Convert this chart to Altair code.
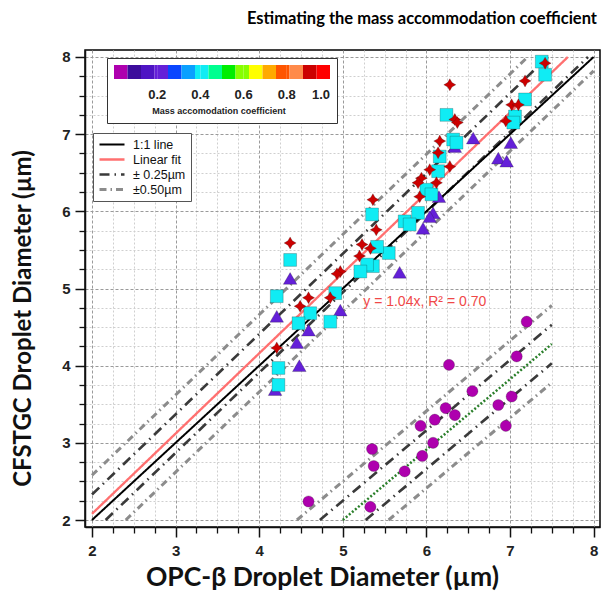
import altair as alt
import pandas as pd

# ---------------- data ----------------
star_x = [7.42, 7.18, 6.28, 7.02, 7.10, 6.34, 6.37, 6.95, 6.16, 6.14, 6.28, 6.04, 5.94, 6.12,
          5.90, 5.92, 5.36, 5.40, 5.23, 5.33, 5.20, 4.97, 4.93, 4.37, 4.59, 4.49, 4.85, 4.21]
star_y = [7.92, 7.69, 7.64, 7.38, 7.38, 7.19, 7.15, 7.17, 6.91, 6.76, 6.58, 6.54, 6.43, 6.37,
          6.37, 6.19, 6.15, 5.76, 5.57, 5.52, 5.42, 5.22, 5.19, 5.59, 4.88, 4.77, 4.88, 4.23]

square_x = [7.38, 7.42, 7.18, 7.06, 7.04, 6.24, 6.32, 6.36, 6.16, 6.14, 6.00, 6.06, 5.90, 5.74,
            5.80, 5.35, 5.55, 5.41, 5.36, 5.29, 5.21, 4.37, 4.21, 4.91, 4.61, 4.47, 4.85, 4.23, 4.23]
square_y = [7.94, 7.77, 7.45, 7.23, 7.15, 7.25, 6.93, 6.89, 6.71, 6.52, 6.28, 6.22, 5.98, 5.87,
            5.83, 5.96, 5.46, 5.54, 5.29, 5.31, 5.22, 5.37, 4.90, 4.94, 4.68, 4.55, 4.57, 3.97, 3.75]

tri_x = [6.56, 7.01, 6.86, 6.96, 6.34, 6.15, 6.08, 6.04, 5.96, 5.68, 4.37, 4.21, 4.97, 4.59,
         4.45, 4.48, 4.19]
tri_y = [6.95, 6.89, 6.69, 6.65, 6.84, 6.19, 5.98, 5.93, 5.78, 5.21, 5.13, 4.64, 4.72, 4.46,
         4.30, 4.00, 3.69]

circ_x = [7.20, 6.27, 7.08, 6.55, 7.02, 6.86, 6.95, 6.23, 6.34, 6.10, 5.93, 6.08, 5.95, 5.74,
          5.35, 5.37, 5.33, 4.59]
circ_y = [4.57, 4.01, 4.12, 3.67, 3.60, 3.49, 3.22, 3.45, 3.36, 3.30, 3.22, 3.00, 2.83, 2.63,
          2.92, 2.70, 2.17, 2.24]

# marker groups (draw order), their mass accommodation coefficient, shape and size
group_names = ["triangle", "square", "star", "circle"]
group_coef = [0.22, 0.40, 0.90, 0.03]
STAR = "M0,-1L0.36,-0.36L1,0L0.36,0.36L0,1L-0.36,0.36L-1,0L-0.36,-0.36Z"
group_shapes = ["triangle-up", "square", STAR, "circle"]
group_sizes = [185, 125, 360, 235]

# colour bar (16 discrete steps between 0 and 1)
colorbar_colors = ["#AE00AE", "#3C0C9C", "#4E14C4", "#6420D8", "#0A46FF", "#0AA0FF",
                   "#10ECF4", "#00FF90", "#00EE00", "#88FF00", "#FFFF00", "#FFAA00",
                   "#FF5500", "#FF8A4A", "#CC0000", "#FF0000"]
colorbar_labels = [0.2, 0.4, 0.6, 0.8, 1.0]

# fitted lines
fit_slope = 1.04
band_offsets = [0.25, 0.50]
grp2_slope = 0.912
grp2_intercept = -2.56
grp2_xmax = 7.5

line_names = ["1:1 line", "Linear fit", "± 0.25µm", "±0.50µm"]
line_colors = ["#000000", "#FF7070", "#3a3a3a", "#8c8c8c"]
line_dashes = [[1, 0], [1, 0], [10, 5, 1.5, 5], [7, 4, 1.5, 4]]
line_widths = [2, 3, 1.6, 1.2]

annot_x = [5.98]
annot_y = [4.82]
annot_text = ["y = 1.04x, R² = 0.70"]

title_text = "Estimating the mass accommodation coefficient"
x_title = "OPC-β Droplet Diameter (µm)"
y_title = "CFSTGC Droplet Diameter (µm)"

major_ticks = [2, 3, 4, 5, 6, 7, 8]
minor_ticks = [2 + 0.25 * i for i in range(25) if i % 4 != 0]

# ---------------- tables ----------------
pts = []
for g, xs, ys in [("triangle", tri_x, tri_y), ("square", square_x, square_y),
                  ("star", star_x, star_y), ("circle", circ_x, circ_y)]:
    c = group_coef[group_names.index(g)]
    for xv, yv in zip(xs, ys):
        pts.append({"x": xv, "y": yv, "g": g, "coef": c})
pts_df = pd.DataFrame(pts)


def seg(m, b, xmax=8.0, lo=2.0, hi=8.0):
    x0 = max(lo, (lo - b) / m)
    x1 = min(xmax, (hi - b) / m)
    return [(x0, m * x0 + b), (x1, m * x1 + b)]


rows = []
def add(lid, series, m, b, xmax=8.0):
    for xv, yv in seg(m, b, xmax):
        rows.append({"x": xv, "y": yv, "lid": lid, "series": series})

for off, name in zip(band_offsets, [line_names[2], line_names[3]]):
    add(f"a+{off}", name, fit_slope, off)
    add(f"a-{off}", name, fit_slope, -off)
    add(f"b+{off}", name, grp2_slope, grp2_intercept + off, grp2_xmax)
    add(f"b-{off}", name, grp2_slope, grp2_intercept - off, grp2_xmax)
add("fit", line_names[1], fit_slope, 0.0)
add("one", line_names[0], 1.0, 0.0)
lines_df = pd.DataFrame(rows)

green_df = pd.DataFrame([{"x": xv, "y": yv} for xv, yv in seg(grp2_slope, grp2_intercept, grp2_xmax)])
annot_df = pd.DataFrame({"x": annot_x, "y": annot_y, "t": annot_text})

# ---------------- scales / axes ----------------
xscale = alt.Scale(domain=[2 - 7 / 83.6, 2 + 508 / 83.6], nice=False, zero=False)
yscale = alt.Scale(domain=[2 - 7 / 77.17, 8 + 7 / 77.17], nice=False, zero=False)

major_common = dict(
    values=major_ticks, format="d",
    labelOverlap=False, labelFlush=False,
    labelFont="Liberation Sans", labelFontSize=15, labelFontWeight="bold", labelColor="#222222",
    tickSize=10, tickColor="#111111", tickWidth=1.5,
    grid=True, gridColor="#9a9a9a", gridDash=[3, 2], gridWidth=1,
    domainColor="#111111", domainWidth=1.5,
    titleFont="Lato", titleFontWeight="bold", titleColor="#111111",
)
xaxis = alt.Axis(title=x_title, orient="bottom", labelPadding=6, titleX=237, titleY=37,
                 titleBaseline="top", titleFontSize=26.5, **major_common)
yaxis = alt.Axis(title=y_title, orient="left", labelPadding=5, titleX=-50, titleY=268,
                 titleFontSize=24, **major_common)

minor_common = dict(
    values=minor_ticks, labels=False, title=None, domain=False,
    tickSize=6, tickColor="#111111", tickWidth=1.3,
    grid=True, gridColor="#cfcfcf", gridDash=[2, 2], gridWidth=1,
)
xaxis_minor = alt.Axis(orient="bottom", **minor_common)
yaxis_minor = alt.Axis(orient="left", **minor_common)

line_legend = alt.Legend(
    title=None, orient="none", legendX=8, legendY=83,
    symbolType="stroke", symbolSize=625, symbolStrokeWidth=2,
    labelFont="Liberation Sans", labelFontSize=12.5, labelColor="#111111", labelOffset=7,
    rowPadding=2, clipHeight=13, padding=5, fillColor="white", strokeColor="#555555",
)

cb_values = sorted(set([i / 16 for i in range(16)] + colorbar_labels))
fill_legend = alt.Legend(
    type="gradient", title="Mass accomodation coefficient", orient="none",
    legendX=22, legendY=8, direction="horizontal",
    gradientLength=216, gradientThickness=14,
    values=cb_values,
    labelExpr="datum.value > 0 && abs(datum.value*5 - round(datum.value*5)) < 1e-6 ? format(datum.value, '.1f') : ''",
    labelOverlap=False, labelAlign="center",
    labelFont="Liberation Sans", labelFontSize=13, labelFontWeight="bold", labelColor="#222222",
    labelOffset=10,
    titleOrient="bottom", titleAnchor="middle", titleFont="Liberation Sans", titleFontSize=9,
    titleFontWeight="bold", titleColor="#222222", titlePadding=5,
    padding=7, fillColor="white", strokeColor="#333333",
)

# ---------------- layers ----------------
lines = alt.Chart(lines_df).mark_line().encode(
    x=alt.X("x:Q", scale=xscale, axis=xaxis),
    y=alt.Y("y:Q", scale=yscale, axis=yaxis),
    detail="lid:N",
    stroke=alt.Stroke("series:N", scale=alt.Scale(domain=line_names, range=line_colors),
                      legend=line_legend),
    strokeDash=alt.StrokeDash("series:N", scale=alt.Scale(domain=line_names, range=line_dashes),
                              legend=line_legend),
    strokeWidth=alt.StrokeWidth("series:N", scale=alt.Scale(domain=line_names, range=line_widths),
                                legend=None),
)

green = alt.Chart(green_df).mark_line(color="#2A7F2A", strokeDash=[2, 2], strokeWidth=2.5).encode(
    x=alt.X("x:Q", scale=xscale, axis=xaxis_minor),
    y=alt.Y("y:Q", scale=yscale, axis=yaxis_minor),
)

points = alt.Chart(pts_df).mark_point(
    filled=True, opacity=1, stroke="#1a1a1a", strokeWidth=0.8, strokeOpacity=0.3
).encode(
    x=alt.X("x:Q", scale=xscale, axis=None),
    y=alt.Y("y:Q", scale=yscale, axis=None),
    fill=alt.Fill("coef:Q", scale=alt.Scale(type="quantize", domain=[0, 1], range=colorbar_colors,
                                            nice=False, zero=False),
                  legend=fill_legend),
    shape=alt.Shape("g:N", scale=alt.Scale(domain=group_names, range=group_shapes), legend=None),
    size=alt.Size("g:N", scale=alt.Scale(domain=group_names, range=group_sizes), legend=None),
)

annot = alt.Chart(annot_df).mark_text(
    font="Liberation Sans", fontSize=14, color="#F04848", align="center", baseline="middle"
).encode(
    x=alt.X("x:Q", scale=xscale, axis=None),
    y=alt.Y("y:Q", scale=yscale, axis=None),
    text="t:N",
)

chart = alt.layer(lines, green, points, annot).resolve_axis(
    x="independent", y="independent"
).properties(
    width=515, height=477,
    title=alt.TitleParams(title_text, anchor="end", frame="group", font="Lato", fontSize=16.5,
                          fontWeight="bold", color="#000000", offset=22, dx=-3),
    autosize=alt.AutoSizeParams(type="none"),
    padding={"left": 85, "top": 50, "right": 3, "bottom": 66},
    background="white",
).configure_view(stroke="black", strokeWidth=1.5)

chart.save("out.html", embed_options={"renderer": "svg", "actions": False})
